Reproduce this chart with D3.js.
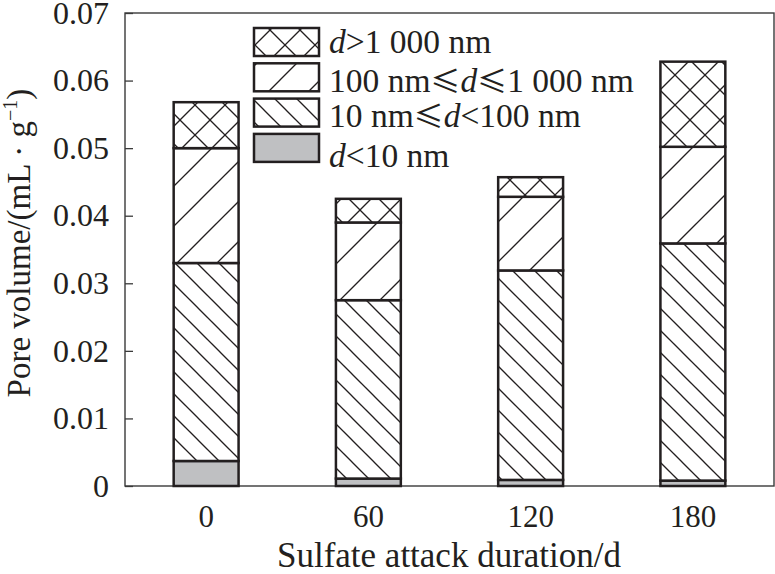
<!DOCTYPE html>
<html><head><meta charset="utf-8">
<script src="https://cdn.jsdelivr.net/npm/d3@7"></script>
<style>html,body{margin:0;padding:0;background:#fff}svg{display:block}text{font-family:"Liberation Serif","Times New Roman",serif;fill:#231f20}</style>
</head><body><div id="chart"></div>
<script>
const categories = ["0", "60", "120", "180"];
const seriesKeys = ["lt10", "s10to100", "s100to1000", "gt1000"];
const lt10       = [0.0037, 0.0011, 0.0009, 0.0008];
const s10to100   = [0.0293, 0.0264, 0.0310, 0.0351];
const s100to1000 = [0.0170, 0.0115, 0.0109, 0.0143];
const gt1000     = [0.0068, 0.0035, 0.0029, 0.0126];
const yTicks = [0, 0.01, 0.02, 0.03, 0.04, 0.05, 0.06, 0.07];
const yTickLabels = ["0", "0.01", "0.02", "0.03", "0.04", "0.05", "0.06", "0.07"];
const xTitle = "Sulfate attack duration/d";

const W = 775, H = 574;
const m = {left:125, right:1, top:13, bottom:88};
const svg = d3.select("#chart").append("svg").attr("width", W).attr("height", H);
const iw = W - m.left - m.right, ih = H - m.top - m.bottom;

const x = d3.scaleBand().domain(categories).range([m.left, m.left + iw]).paddingInner(0.6).paddingOuter(0.3);
const y = d3.scaleLinear().domain([0, 0.07]).range([m.top + ih, m.top]);

const defs = svg.append("defs");
function pat(id, size, paths, fill) {
  const p = defs.append("pattern").attr("id", id).attr("patternUnits", "userSpaceOnUse")
    .attr("width", size).attr("height", size);
  p.append("rect").attr("width", size).attr("height", size).attr("fill", fill || "#fff");
  paths.forEach(d => p.append("path").attr("d", d).attr("stroke", "#231f20").attr("stroke-width", 1.3).attr("fill", "none"));
}
pat("pBack", 22, ["M-5,-5 L27,27", "M-27,-5 L5,27", "M17,-5 L49,27"]);
pat("pFwd", 40, ["M-5,45 L45,-5", "M-45,45 L5,-5", "M35,45 L85,-5"]);
pat("pCross", 30, ["M-5,-5 L35,35", "M-35,-5 L5,35", "M25,-5 L65,35",
                   "M-5,35 L35,-5", "M-35,35 L5,-5", "M25,35 L65,-5"]);

const fills = {lt10:"#bfc0c2", s10to100:"url(#pBack)", s100to1000:"url(#pFwd)", gt1000:"url(#pCross)"};
const vals = {lt10, s10to100, s100to1000, gt1000};
const table = categories.map((c, i) => {
  const o = {cat: c};
  seriesKeys.forEach(k => o[k] = vals[k][i]);
  return o;
});
const stacked = d3.stack().keys(seriesKeys)(table);

svg.append("rect").attr("x", m.left).attr("y", m.top).attr("width", iw).attr("height", ih)
  .attr("fill", "none").attr("stroke", "#3a3a3a").attr("stroke-width", 1.4);

const yAxis = d3.axisLeft(y).tickValues(yTicks).tickFormat((d, i) => yTickLabels[i]).tickSize(-8).tickPadding(16);
const ga = svg.append("g").attr("transform", `translate(${m.left},0)`).call(yAxis);
ga.select(".domain").remove();
ga.selectAll("line").attr("stroke", "#3a3a3a").attr("stroke-width", 1.3);
ga.selectAll("text").attr("font-size", 32).attr("font-family", "Liberation Serif").attr("fill", "#231f20");

const xAxis = d3.axisBottom(x).tickSize(0).tickPadding(19);
const gx = svg.append("g").attr("transform", `translate(0,${m.top + ih})`).call(xAxis);
gx.select(".domain").remove();
gx.selectAll("text").attr("font-size", 31).attr("font-family", "Liberation Serif").attr("fill", "#231f20");

stacked.forEach(s => {
  svg.append("g").selectAll("rect").data(s).join("rect")
    .attr("x", d => x(d.data.cat)).attr("width", x.bandwidth())
    .attr("y", d => y(d[1])).attr("height", d => y(d[0]) - y(d[1]))
    .attr("fill", fills[s.key]).attr("stroke", "#231f20").attr("stroke-width", 2.5);
});

svg.append("text").attr("x", 449).attr("y", 567).attr("text-anchor", "middle").attr("font-size", 35).text(xTitle);
const yt = svg.append("text").attr("transform", "translate(30,243) rotate(-90)").attr("text-anchor", "middle").attr("font-size", 33);
yt.append("tspan").text("Pore volume/(mL · g");
yt.append("tspan").attr("font-size", 20).attr("dy", -13).text("−1");
yt.append("tspan").attr("dy", 13).text(")");

const legendItems = [
  {key:"gt1000", parts:[["d", "i"], [">1 000 nm", "n"]], ty:53},
  {key:"s100to1000", parts:[["100 nm", "n"], ["≤", "c"], ["d", "i"], ["≤", "c"], ["1 000 nm", "n"]], ty:92},
  {key:"s10to100", parts:[["10 nm", "n"], ["≤", "c"], ["d", "i"], ["<100 nm", "n"]], ty:127},
  {key:"lt10", parts:[["d", "i"], ["<10 nm", "n"]], ty:167}
];
const lg = svg.append("g");
legendItems.forEach((it, i) => {
  lg.append("rect").attr("x", 254).attr("y", 28 + i * 35.3).attr("width", 65).attr("height", 28)
    .attr("fill", fills[it.key]).attr("stroke", "#231f20").attr("stroke-width", 2.5);
  const t = lg.append("text").attr("x", 329).attr("y", it.ty).attr("font-size", 33.5);
  it.parts.forEach(p => {
    const ts = t.append("tspan").text(p[0]);
    if (p[1] === "i") ts.attr("font-style", "italic");
    if (p[1] === "c") ts.attr("font-family", "Noto Sans CJK SC").attr("font-size", 30);
  });
});
</script></body></html>
